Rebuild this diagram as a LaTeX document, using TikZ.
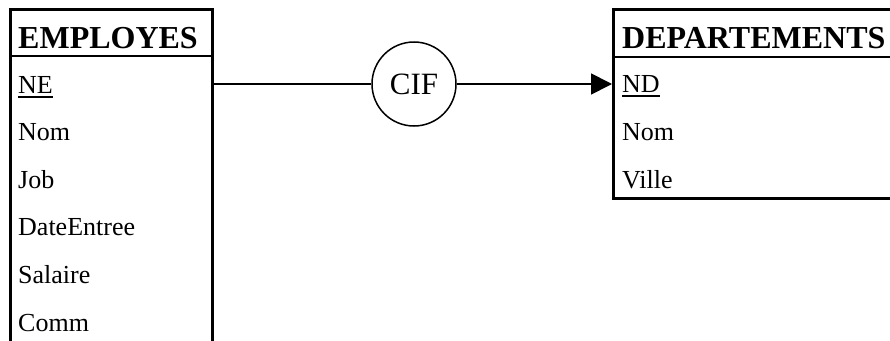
\documentclass[tikz,border=0pt]{standalone}
\usepackage{fontspec}
\setmainfont{Liberation Serif}
\usetikzlibrary{arrows.meta}
\tikzset{
  box/.style={draw, line width=2.5pt, inner sep=0pt, anchor=north west},
  rule/.style={line width=2.5pt},
  hdr/.style={anchor=base west, inner sep=0pt, font=\fontsize{32}{36}\selectfont\bfseries},
  attr/.style={anchor=base west, inner sep=0pt, font=\fontsize{26}{30}\selectfont},
  uline/.style={line width=2pt},
  conn/.style={line width=1.7pt},
  rel/.style={circle, draw, line width=1.5pt, minimum size=84pt, inner sep=0pt, font=\fontsize{31}{34}\selectfont}
}
\begin{document}
\begin{tikzpicture}[x=1pt, y=-1pt]
\useasboundingbox (0,0) rectangle (890,340);
\clip (0,0) rectangle (890,340);
\fill[white] (0,0) rectangle (890,340);
% EMPLOYES table
\node[box, minimum width=202pt, minimum height=400pt] (emp) at (9,8) {};
\draw[rule] (emp.west |- 0,56) -- (emp.east |- 0,56);
\node[hdr] (empT) at (18,48) {EMPLOYES};
\node[attr] (empNE) at (18,93) {NE};
\draw[uline] ([yshift=-3.5pt]empNE.base west) -- ([yshift=-3.5pt]empNE.base east);
\node[attr] (empNom) at (18,140) {Nom};
\node[attr] (empJob) at (18,188) {Job};
\node[attr] (empDate) at (18,235) {DateEntree};
\node[attr] (empSal) at (18,283) {Salaire};
\node[attr] (empComm) at (18,331) {Comm};
% DEPARTEMENTS table
\node[box, minimum width=400pt, minimum height=189pt] (dep) at (612,8) {};
\draw[rule] (dep.west |- 0,57) -- (dep.east |- 0,57);
\node[hdr] (depT) at (622,48) {DEPARTEMENTS};
\node[attr] (depND) at (622,92) {ND};
\draw[uline] ([yshift=-4pt]depND.base west) -- ([yshift=-4pt]depND.base east);
\node[attr] (depNom) at (622,140) {Nom};
\node[attr] (depVille) at (622,188) {Ville};
% relation
\node[rel] (cif) at (414,84) {CIF};
\draw[conn] (emp.east |- cif) -- (cif);
\draw[conn, -{Triangle[length=21pt, width=21pt]}] (cif) -- (dep.west |- cif);
\end{tikzpicture}
\end{document}
